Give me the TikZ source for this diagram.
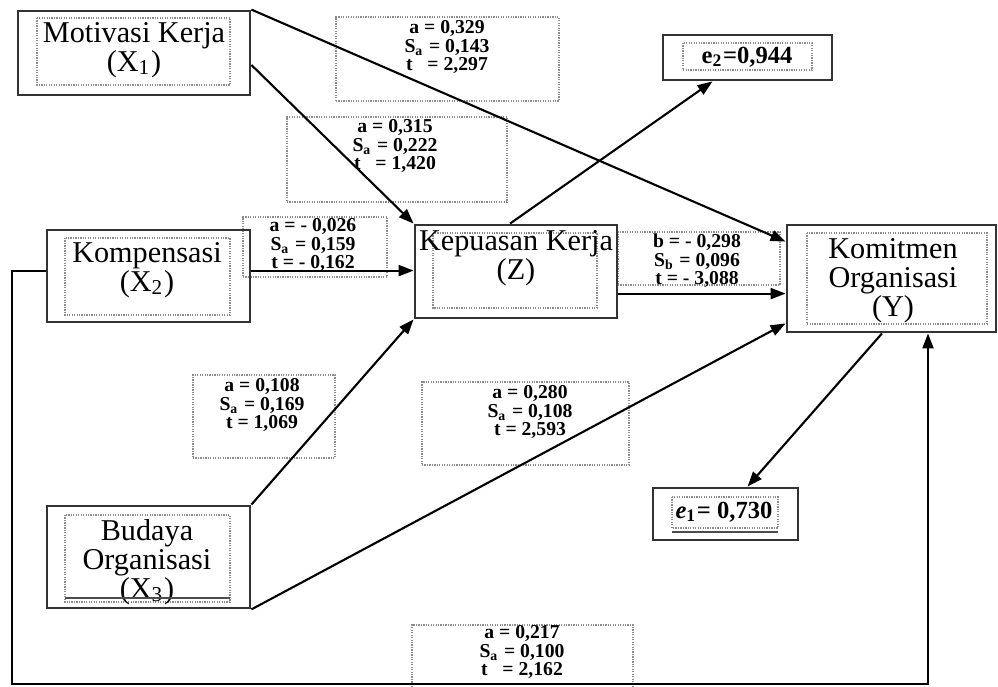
\documentclass[tikz,border=0pt]{standalone}
\usepackage{fontspec}
\setmainfont{Liberation Serif}
\usetikzlibrary{arrows.meta,fit,calc}

\begin{document}
\begin{tikzpicture}[
    x=0.1mm,y=-0.1mm,>={Triangle[length=1.5mm,width=1.1mm]},
    box/.style={draw=black!80,line width=0.8pt,inner sep=0pt},
    dotbox/.style={draw=black!45,line width=0.35pt,dash pattern=on 0.35pt off 0.35pt},
    coefbox/.style={dotbox,inner sep=0pt},
    varlabel/.style={align=center,font=\fontsize{8.6}{8.2}\selectfont,inner sep=0pt},
    coef/.style={align=center,font=\fontsize{5.6}{5.3}\selectfont\bfseries,inner sep=0pt},
    errlabel/.style={font=\fontsize{7}{8}\selectfont\bfseries,inner sep=0pt},
    link/.style={->,line width=0.6pt}
]
\useasboundingbox (0,0) rectangle (998,687);
% Coefficient boxes, drawn first so the paths run over them.
\node[coefbox,fit={(336,17) (559,101)}] (b1) {};
\node[coef] (c1) at (447,47) {a = 0,329\\S\textsubscript{a} = 0,143\\t \ \ = 2,297};
\node[coefbox,fit={(287,117) (507,202)}] (b2) {};
\node[coef] (c2) at (395,146) {a = 0,315\\S\textsubscript{a} = 0,222\\t \ \ = 1,420};
\node[coefbox,fit={(243,217) (387,277)}] (b3) {};
\node[coef] (c3) at (313,245) {a = - 0,026\\S\textsubscript{a} = 0,159\\t = - 0,162};
\node[coefbox,fit={(618,232) (780,285)}] (b4) {};
\node[coef] (c4) at (697,261) {b = - 0,298\\S\textsubscript{b} = 0,096\\t = - 3,088};
\node[coefbox,fit={(193,375) (335,458)}] (b5) {};
\node[coef] (c5) at (262,405) {a = 0,108\\S\textsubscript{a} = 0,169\\t = 1,069};
\node[coefbox,fit={(422,382) (629,465)}] (b6) {};
\node[coef] (c6) at (530,412) {a = 0,280\\S\textsubscript{a} = 0,108\\t = 2,593};
\node[coefbox,fit={(412,625) (633,690)}] (b7) {};
\node[coef] (c7) at (522,652) {a = 0,217\\S\textsubscript{a} = 0,100\\t \ \ = 2,162};
% Variables.
\node[box,fit={(18,11) (250,95)}] (X1) {};
\draw[dotbox] (37,18) rectangle (230,85);
\node[varlabel] (l1) at (134,50) {Motivasi Kerja\\(X\textsubscript{1})};
\node[box,fit={(47,230) (250,322)}] (X2) {};
\draw[dotbox] (65,238) rectangle (230,315);
\node[varlabel] (l2) at (147,270) {Kompensasi\\(X\textsubscript{2})};
\node[box,fit={(47,506) (250,608)}] (X3) {};
\draw[dotbox] (65,515) rectangle (230,602);
\node[varlabel] (l3) at (147,562) {Budaya\\Organisasi\\(X\textsubscript{3})};
\draw[black!70,line width=0.5pt] (65,598) -- (230,598);
\node[box,fit={(415,225) (617,318)}] (Z) {};
\draw[dotbox] (433,233) rectangle (597,308);
\node[varlabel] (lz) at (516,258) {Kepuasan Kerja\\(Z)};
\node[box,fit={(787,225) (996,332)}] (Y) {};
\draw[dotbox] (807,233) rectangle (987,324);
\node[varlabel] (ly) at (893,281) {Komitmen\\Organisasi\\(Y)};
% Error terms.
\node[box,fit={(663,35) (832,80)}] (E2) {};
\draw[dotbox] (683,43) rectangle (812,70);
\node[errlabel] (le2) at (747,57) {e\textsubscript{2}=0,944};
\node[box,fit={(653,488) (798,540)}] (E1) {};
\draw[dotbox] (672,497) rectangle (778,528);
\draw[black!70,line width=0.5pt] (672,532) -- (778,532);
\node[errlabel] (le1) at (724,512) {\textit{e}\textsubscript{1}= 0,730};
% Paths.
\draw[link] ([yshift=-1.2mm]X1.east) -- (Z.north west);
\draw[link] (X1.north east) -- ([yshift=-1.8mm]Y.north west);
\draw[link] ([yshift=-4.2mm]X2.north east) -- ([yshift=-4.2mm]X2.north east -| Z.west);
\draw[link] (X3.north east) -- (Z.south west);
\draw[link] (X3.south east) -- ([yshift=1mm]Y.south west);
\draw[link] ([yshift=-7mm]Z.north east) -- ([yshift=-7mm]Z.north east -| Y.west);
\draw[link] ([xshift=-0.6mm]Z.north) -- ([xshift=-3.5mm]E2.south);
\draw[link] ([xshift=-0.95mm]Y.south) -- ([xshift=2.2mm]E1.north);
\draw[link] ([yshift=-4.2mm]X2.north west) -| (12,684) -| ([xshift=3.65mm]Y.south);
\end{tikzpicture}
\end{document}
